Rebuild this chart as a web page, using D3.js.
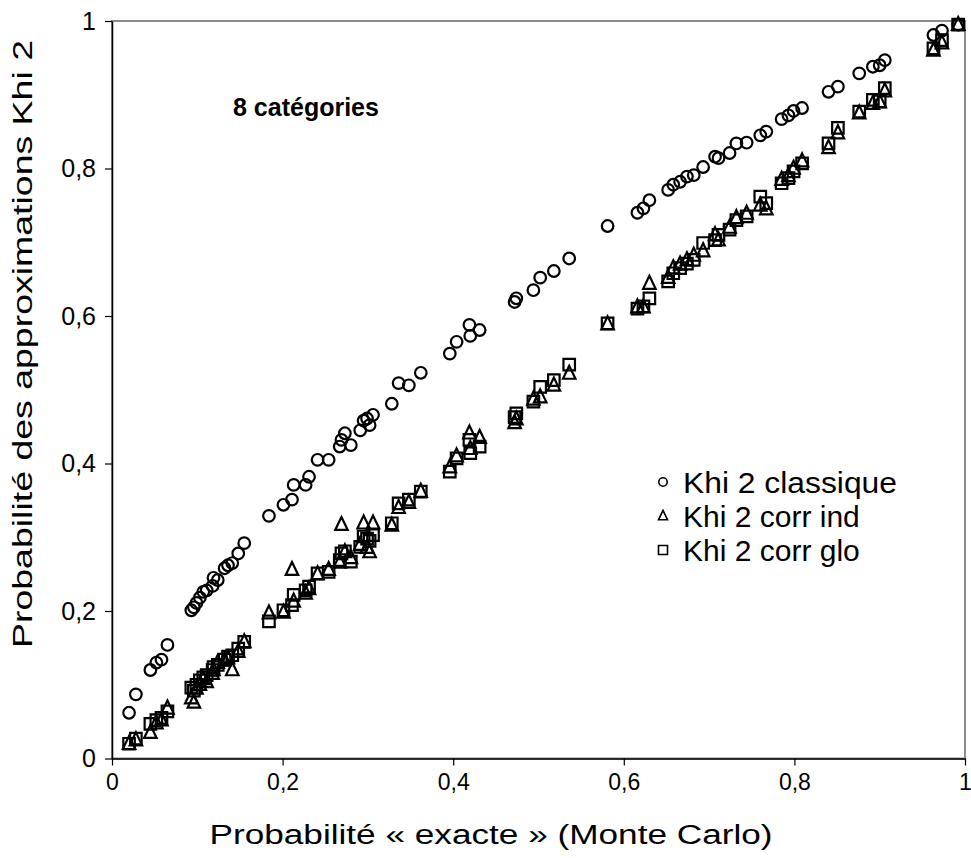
<!DOCTYPE html>
<html>
<head>
<meta charset="utf-8">
<script src="https://cdn.jsdelivr.net/npm/d3@7"></script>
<style>
  html, body { margin: 0; padding: 0; background: #fff; }
  svg { display: block; font-family: "Liberation Sans", Arial, sans-serif; }
</style>
</head>
<body>
<svg id="chart" width="971" height="858"></svg>
<script>
// ---- Data ----
const probExacte = [
  0.020, 0.028, 0.045, 0.052, 0.058, 0.065, 0.093, 0.096, 0.099, 0.103,
  0.107, 0.111, 0.118, 0.119, 0.124, 0.132, 0.136, 0.141, 0.148, 0.155,
  0.184, 0.201, 0.211, 0.213, 0.227, 0.231, 0.241, 0.254, 0.267, 0.269,
  0.273, 0.280, 0.291, 0.295, 0.299, 0.302, 0.306, 0.328, 0.336, 0.348,
  0.362, 0.396, 0.404, 0.419, 0.420, 0.431, 0.472, 0.474, 0.494, 0.502,
  0.518, 0.536, 0.581, 0.616, 0.623, 0.630, 0.652, 0.658, 0.666, 0.674,
  0.682, 0.693, 0.707, 0.711, 0.724, 0.732, 0.744, 0.760, 0.767, 0.785,
  0.793, 0.799, 0.809, 0.840, 0.851, 0.876, 0.892, 0.900, 0.906, 0.963,
  0.973, 0.992
];
const khi2Classique = [
  0.062, 0.087, 0.120, 0.130, 0.134, 0.154, 0.201, 0.205, 0.211, 0.218,
  0.226, 0.228, 0.234, 0.245, 0.242, 0.258, 0.262, 0.265, 0.278, 0.292,
  0.329, 0.344, 0.351, 0.371, 0.371, 0.382, 0.405, 0.405, 0.423, 0.432,
  0.441, 0.425, 0.445, 0.458, 0.461, 0.452, 0.466, 0.481, 0.509, 0.506,
  0.523, 0.549, 0.565, 0.588, 0.573, 0.581, 0.619, 0.624, 0.635, 0.652,
  0.661, 0.678, 0.722, 0.740, 0.746, 0.757, 0.771, 0.778, 0.782, 0.789,
  0.791, 0.802, 0.816, 0.814, 0.821, 0.834, 0.835, 0.845, 0.850, 0.867,
  0.872, 0.878, 0.882, 0.904, 0.911, 0.929, 0.938, 0.940, 0.947, 0.981,
  0.987, 0.995
];
const khi2CorrInd = [
  0.020, 0.025, 0.035, 0.048, 0.052, 0.068, 0.082, 0.076, 0.095, 0.100,
  0.108, 0.104, 0.115, 0.120, 0.130, 0.133, 0.136, 0.120, 0.145, 0.158,
  0.197, 0.198, 0.256, 0.213, 0.224, 0.230, 0.250, 0.256, 0.266, 0.317,
  0.280, 0.272, 0.290, 0.319, 0.286, 0.280, 0.319, 0.316, 0.340, 0.347,
  0.362, 0.395, 0.410, 0.441, 0.420, 0.435, 0.455, 0.460, 0.487, 0.490,
  0.506, 0.522, 0.589, 0.612, 0.612, 0.644, 0.652, 0.665, 0.670, 0.676,
  0.682, 0.688, 0.710, 0.703, 0.720, 0.733, 0.739, 0.750, 0.745, 0.785,
  0.790, 0.800, 0.810, 0.828, 0.848, 0.875, 0.888, 0.890, 0.905, 0.960,
  0.970, 0.995
];
const khi2CorrGlo = [
  0.020, 0.027, 0.047, 0.052, 0.055, 0.064, 0.096, 0.092, 0.100, 0.106,
  0.110, 0.113, 0.120, 0.124, 0.127, 0.134, 0.138, 0.140, 0.149, 0.158,
  0.186, 0.201, 0.208, 0.222, 0.228, 0.233, 0.251, 0.253, 0.269, 0.278,
  0.281, 0.267, 0.287, 0.301, 0.298, 0.295, 0.303, 0.319, 0.346, 0.351,
  0.362, 0.389, 0.407, 0.432, 0.414, 0.423, 0.463, 0.468, 0.484, 0.504,
  0.513, 0.534, 0.590, 0.610, 0.613, 0.624, 0.647, 0.658, 0.665, 0.671,
  0.676, 0.699, 0.703, 0.710, 0.717, 0.730, 0.735, 0.762, 0.753, 0.780,
  0.787, 0.796, 0.807, 0.834, 0.855, 0.877, 0.893, 0.891, 0.909, 0.963,
  0.974, 0.995
];
const tickValues = [0, 0.2, 0.4, 0.6, 0.8, 1];
const tickLabels = ["0", "0,2", "0,4", "0,6", "0,8", "1"];
const seriesNames = ["Khi 2 classique", "Khi 2 corr ind", "Khi 2 corr glo"];
const chartTitle = "8 catégories";
const xTitle = "Probabilité « exacte » (Monte Carlo)";
const yTitle = "Probabilité des approximations Khi 2";

// ---- Layout ----
const svg = d3.select("#chart");
const plot = { left: 112, right: 965, top: 21, bottom: 758.5 };

const x = d3.scaleLinear().domain([0, 1]).range([plot.left, plot.right]);
const y = d3.scaleLinear().domain([0, 1]).range([plot.bottom, plot.top]);

// plot frame (grey top/right)
svg.append("rect")
  .attr("x", plot.left).attr("y", plot.top)
  .attr("width", plot.right - plot.left).attr("height", plot.bottom - plot.top)
  .attr("fill", "none").attr("stroke", "#8c8c8c").attr("stroke-width", 2);

// axes
const fmt = (d) => tickLabels[tickValues.indexOf(d)];
const xAxis = svg.append("g")
  .attr("transform", `translate(0,${plot.bottom})`)
  .call(d3.axisBottom(x).tickValues(tickValues).tickFormat(fmt).tickSizeOuter(0).tickSizeInner(7).tickPadding(8));
const yAxis = svg.append("g")
  .attr("transform", `translate(${plot.left},0)`)
  .call(d3.axisLeft(y).tickValues(tickValues).tickFormat(fmt).tickSizeOuter(0).tickSizeInner(7).tickPadding(9));

[xAxis, yAxis].forEach(g => {
  g.select(".domain").attr("stroke", "#000").attr("stroke-width", 1.5);
  g.selectAll(".tick line").attr("stroke", "#000").attr("stroke-width", 1.2);
  g.selectAll(".tick text").attr("fill", "#000")
    .style("font-family", "'Liberation Sans', Arial, sans-serif");
});
xAxis.selectAll(".tick text").style("font-size", "23px");
yAxis.selectAll(".tick text").style("font-size", "25px");

// markers
const symCircle = d3.symbol().type(d3.symbolCircle).size(Math.PI * 5.8 * 5.8);
const triPath = (s) => `M0,${-s * 0.62}L${s / 2},${s * 0.42}L${-s / 2},${s * 0.42}Z`;
const sqPath = (s) => `M${-s / 2},${-s / 2}H${s / 2}V${s / 2}H${-s / 2}Z`;

const idx = d3.range(probExacte.length);

svg.append("g").selectAll("path").data(idx).join("path")
  .attr("d", symCircle())
  .attr("transform", i => `translate(${x(probExacte[i])},${y(khi2Classique[i])})`)
  .attr("fill", "none").attr("stroke", "#000").attr("stroke-width", 2.2);

svg.append("g").selectAll("path").data(idx).join("path")
  .attr("d", triPath(12.5))
  .attr("transform", i => `translate(${x(probExacte[i])},${y(khi2CorrInd[i])})`)
  .attr("fill", "none").attr("stroke", "#000").attr("stroke-width", 2.2).attr("stroke-linejoin", "miter");

svg.append("g").selectAll("path").data(idx).join("path")
  .attr("d", sqPath(11.5))
  .attr("transform", i => `translate(${x(probExacte[i])},${y(khi2CorrGlo[i])})`)
  .attr("fill", "none").attr("stroke", "#000").attr("stroke-width", 2.2);

// chart title
svg.append("text")
  .attr("x", 233).attr("y", 116)
  .style("font-size", "25px").style("font-weight", "bold")
  .text(chartTitle);

// axis titles
svg.append("text")
  .attr("x", 491).attr("y", 844)
  .attr("text-anchor", "middle")
  .attr("textLength", 563).attr("lengthAdjust", "spacingAndGlyphs")
  .style("font-size", "27px")
  .text(xTitle);

svg.append("text")
  .attr("transform", `translate(32,344) rotate(-90)`)
  .attr("text-anchor", "middle")
  .attr("textLength", 608).attr("lengthAdjust", "spacingAndGlyphs")
  .style("font-size", "27px")
  .text(yTitle);

// legend
const legend = svg.append("g").attr("transform", "translate(663,482)");
const legendShapes = [
  d3.symbol().type(d3.symbolCircle).size(Math.PI * 4.2 * 4.2)(),
  triPath(9),
  sqPath(9)
];
seriesNames.forEach((name, i) => {
  const row = legend.append("g").attr("transform", `translate(0,${i * 34})`);
  row.append("path").attr("d", legendShapes[i])
    .attr("fill", "none").attr("stroke", "#000").attr("stroke-width", 1.6);
  row.append("text").attr("x", 20).attr("y", 11)
    .attr("textLength", name === "Khi 2 classique" ? 214 : null)
    .attr("lengthAdjust", "spacingAndGlyphs")
    .style("font-size", "30px")
    .text(name);
});
</script>
</body>
</html>
